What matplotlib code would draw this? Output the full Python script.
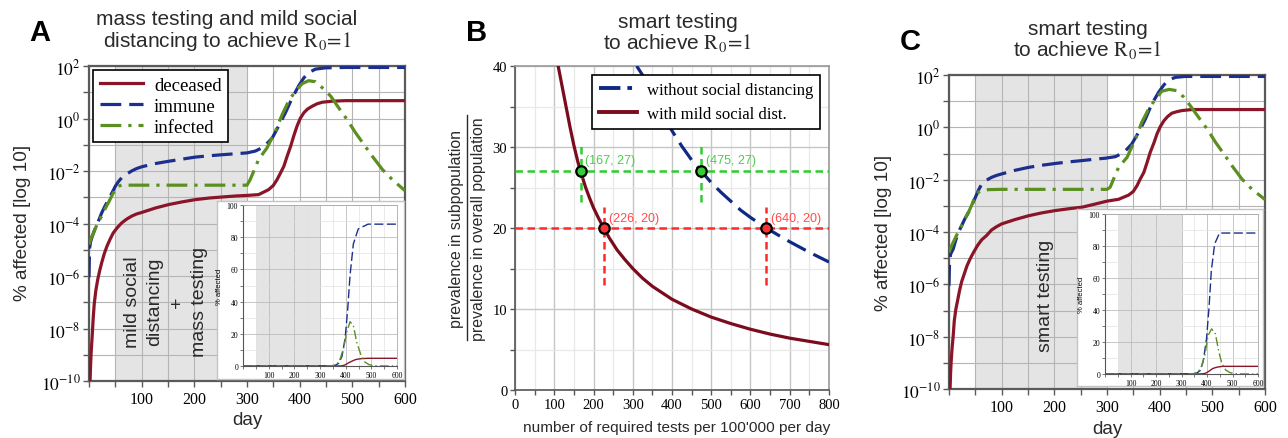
import numpy as np
import matplotlib
matplotlib.use("Agg")
import matplotlib.pyplot as plt
from matplotlib.ticker import FixedLocator, MultipleLocator, NullFormatter, FuncFormatter
from matplotlib.lines import Line2D

plt.rcParams['font.family'] = ['Liberation Sans', 'DejaVu Sans']
plt.rcParams['mathtext.fontset'] = 'stix'
SERIF = ['Liberation Serif', 'DejaVu Serif']

# ---- panel A: mass testing + mild social distancing (log10 of % affected) ----
a_dec_day = [1.5, 2, 3, 4, 6, 8, 10, 13, 16.5, 20, 24, 29, 34, 40, 46, 54, 62, 71, 81, 90, 100,
             126, 151, 176, 202, 228, 253, 280, 300, 322, 341, 350, 357, 363, 370, 376, 383, 389,
             395, 401, 408, 415, 424, 433, 443, 462, 487, 600]
a_dec = [-10.3, -10.0, -9.4, -8.94, -8.3, -7.6, -7.05, -6.55, -6.14, -5.82, -5.5, -5.15, -4.87,
         -4.6, -4.36, -4.15, -3.98, -3.84, -3.72, -3.64, -3.58, -3.41, -3.28, -3.18, -3.09, -3.03,
         -2.99, -2.95, -2.93, -2.9, -2.71, -2.55, -2.33, -2.1, -1.82, -1.45, -1.05, -0.65, -0.29,
         0.0, 0.22, 0.36, 0.47, 0.56, 0.62, 0.66, 0.68, 0.68]
a_imm_day = [0, 0.5, 1, 3, 6, 11, 17, 24, 30, 37, 44, 50, 56, 62, 71, 81, 90, 100, 125, 151, 176,
             202, 228, 253, 280, 300, 316, 332, 348, 360, 373, 386, 398, 408, 417, 430, 449, 487, 600]
a_imm = [-6.05, -5.5, -4.95, -4.7, -4.5, -4.23, -3.95, -3.6, -3.35, -3.09, -2.82, -2.58, -2.4,
         -2.26, -2.12, -2.0, -1.91, -1.84, -1.72, -1.63, -1.55, -1.47, -1.42, -1.38, -1.34, -1.31,
         -1.24, -1.08, -0.74, -0.29, 0.22, 0.79, 1.24, 1.55, 1.75, 1.88, 1.93, 1.945, 1.945]
a_inf_day = [0, 5, 11, 17, 24, 30, 37, 44, 50, 55, 62, 75, 100, 150, 200, 250, 300, 306, 314, 322,
             338, 354, 367, 379, 392, 405, 417, 430, 443, 459, 474, 490, 506, 522, 538, 557, 576, 600]
a_inf = [-4.8, -4.52, -4.23, -3.97, -3.72, -3.46, -3.2, -2.92, -2.7, -2.58, -2.54, -2.54, -2.54,
         -2.54, -2.54, -2.54, -2.54, -2.33, -1.95, -1.56, -1.12, -0.48, 0.16, 0.66, 1.05, 1.33,
         1.44, 1.4, 1.17, 0.85, 0.41, -0.04, -0.54, -0.99, -1.44, -1.94, -2.33, -2.75]

# ---- panel C: smart testing ----
c_dec_day = [1.5, 2, 3, 4, 6, 8, 10, 13, 16.5, 20, 24, 29, 34, 40, 46, 54, 62, 71, 81, 90, 100,
             126, 151, 176, 202, 228, 253, 280, 300, 322, 341, 350, 357, 363, 370, 376, 382, 389,
             395, 401, 408, 415, 423, 433, 442, 461, 490, 600]
c_dec = [-10.3, -10.0, -9.4, -8.98, -8.4, -7.96, -7.4, -6.95, -6.6, -6.24, -5.9, -5.6, -5.3,
         -5.03, -4.8, -4.52, -4.3, -4.14, -3.92, -3.8, -3.69, -3.52, -3.38, -3.27, -3.18, -3.11,
         -3.05, -2.92, -2.82, -2.75, -2.59, -2.45, -2.23, -1.98, -1.72, -1.35, -0.96, -0.6, -0.25,
         0.02, 0.25, 0.41, 0.54, 0.6, 0.64, 0.68, 0.68, 0.68]
c_imm_day = [0, 0.5, 1, 3, 8, 13, 18, 24, 30, 37, 44, 50, 56, 62, 71, 81, 90, 100, 126, 151, 176,
             202, 228, 253, 280, 297, 316, 332, 347, 360, 373, 385, 398, 408, 417, 430, 449, 600]
c_imm = [-6.05, -5.6, -5.2, -4.85, -4.65, -4.3, -4.0, -3.76, -3.5, -3.25, -2.95, -2.68, -2.4,
         -2.17, -2.02, -1.91, -1.84, -1.78, -1.64, -1.53, -1.45, -1.38, -1.32, -1.27, -1.21, -1.18,
         -1.12, -0.96, -0.64, -0.19, 0.32, 0.89, 1.34, 1.62, 1.81, 1.91, 1.945, 1.945]
c_inf_day = [0, 5, 11, 17, 24, 30, 37, 44, 50, 56, 62, 75, 100, 150, 200, 250, 300, 306, 314, 322,
             338, 354, 366, 379, 392, 404, 418, 433, 446, 458, 474, 490, 506, 522, 537, 556, 575, 600]
c_inf = [-4.78, -4.52, -4.27, -4.02, -3.76, -3.5, -3.25, -2.93, -2.61, -2.48, -2.42, -2.38, -2.37,
         -2.37, -2.37, -2.37, -2.37, -2.29, -1.9, -1.53, -1.15, -0.45, 0.19, 0.7, 1.08, 1.38,
         1.45, 1.4, 1.15, 0.83, 0.38, -0.06, -0.57, -1.02, -1.46, -1.97, -2.36, -2.76]

# ---- panel B: tests needed vs. prevalence ratio ----
b_dist_x = [110, 120, 130, 140, 150, 160, 167, 180, 190, 200, 213, 226, 240, 260, 280, 300, 325,
            350, 375, 400, 450, 500, 550, 600, 650, 700, 750, 800]
b_dist_y = [40, 37.5, 35, 32.5, 30.2, 28.2, 27, 25, 23.7, 22.5, 21.2, 20, 18.8, 17.3, 16.1, 15,
            13.8, 12.8, 12, 11.2, 10, 9, 8.2, 7.5, 6.9, 6.4, 6.0, 5.6]
b_free_x = [310, 330, 350, 375, 400, 425, 450, 475, 500, 525, 550, 575, 600, 640, 675, 700, 750, 800]
b_free_y = [40, 38.5, 36.5, 34, 32, 30.1, 28.4, 27, 25.6, 24.4, 23.3, 22.2, 21.3, 20, 19, 18.3,
            17, 15.8]
green_pts_x = [167, 475]
green_pts_y = [27, 27]
red_pts_x = [226, 640]
red_pts_y = [20, 20]

C_DEC = '#8a1528'
C_IMM = '#1c2f8f'
C_INF = '#5b8f1f'
GRID = '#b5b5b5'
SHADE = '#e4e4e4'
FRAME = '#5a5a5a'
TXT = '#2a2a2a'

DASH_IMM = (6.5, 2.5)
DASH_INF = (6.5, 2.2, 1.0, 2.2)

W, H = 1288, 439
fig = plt.figure(figsize=(W / 100, H / 100), dpi=100)


def px(x0, y0, x1, y1):
    # pixel box (left, top, right, bottom) -> figure rect
    return [x0 / W, 1 - y1 / H, (x1 - x0) / W, (y1 - y0) / H]


def epi_panel(rect, box, inset, dec_day, dec, imm_day, imm, inf_day, inf, legend=False):
    ax = fig.add_axes(rect)
    ax.axvspan(50, 300, color=SHADE, lw=0, zorder=0)
    ld, = ax.plot(dec_day, 10 ** np.array(dec), color=C_DEC, lw=2.3, label='deceased', zorder=3)
    li, = ax.plot(imm_day, 10 ** np.array(imm), color=C_IMM, lw=2.3, dashes=DASH_IMM,
                  label='immune', zorder=4)
    lf, = ax.plot(inf_day, 10 ** np.array(inf), color=C_INF, lw=2.3, dashes=DASH_INF,
                  label='infected', zorder=4)
    ax.set_yscale('log')
    ax.set_xlim(0, 600)
    ax.set_ylim(1e-10, 1e2)
    ax.xaxis.set_major_locator(FixedLocator([100, 200, 300, 400, 500, 600]))
    ax.xaxis.set_minor_locator(MultipleLocator(50))
    ax.yaxis.set_major_locator(FixedLocator([10.0 ** e for e in range(-10, 3, 2)]))
    ax.yaxis.set_minor_locator(FixedLocator([10.0 ** e for e in range(-9, 2, 2)]))
    ax.yaxis.set_minor_formatter(NullFormatter())
    ax.yaxis.set_major_formatter(FuncFormatter(lambda v, p: r'$10^{%d}$' % round(np.log10(v))))
    ax.set_axisbelow(True)
    ax.grid(True, which='both', color=GRID, lw=0.8)
    for s in ax.spines.values():
        s.set_color(FRAME)
        s.set_linewidth(1.6)
    ax.tick_params(which='both', direction='out', color=FRAME, length=4, width=1)
    ax.tick_params(axis='y', labelsize=12.5, pad=2)
    ax.tick_params(axis='x', labelsize=11.5, pad=3)
    for t in ax.get_xticklabels():
        t.set_fontfamily(SERIF)
    if legend:
        lg = ax.legend(handles=[ld, li, lf], loc='upper left', bbox_to_anchor=(0.013, 0.987),
                       borderaxespad=0, prop={'family': SERIF, 'size': 13.5}, fancybox=False,
                       framealpha=1, edgecolor='black', handlelength=2.3, labelspacing=0.2,
                       borderpad=0.35, handletextpad=0.6)
        lg.get_frame().set_linewidth(1.2)
        lg.set_zorder(10)

    # white card behind the linear-scale inset
    bx = fig.add_axes(box)
    bx.set_xticks([])
    bx.set_yticks([])
    for s in bx.spines.values():
        s.set_color('#c4c4c4')
        s.set_linewidth(1.0)

    ia = fig.add_axes(inset)
    ia.axvspan(50, 300, color=SHADE, lw=0, zorder=0)
    ia.plot(dec_day, 10 ** np.array(dec), color=C_DEC, lw=1.0)
    ia.plot(imm_day, 10 ** np.array(imm), color=C_IMM, lw=1.0, dashes=DASH_IMM)
    ia.plot(inf_day, 10 ** np.array(inf), color=C_INF, lw=1.0, dashes=DASH_INF)
    ia.set_xlim(0, 600)
    ia.set_ylim(0, 100)
    ia.xaxis.set_major_locator(FixedLocator([100, 200, 300, 400, 500, 600]))
    ia.xaxis.set_minor_locator(MultipleLocator(50))
    ia.yaxis.set_major_locator(MultipleLocator(20))
    ia.yaxis.set_minor_locator(MultipleLocator(10))
    ia.set_axisbelow(True)
    ia.grid(True, which='major', color='#bdbdbd', lw=0.6)
    ia.grid(True, which='minor', color='#e2e2e2', lw=0.5)
    ia.tick_params(which='both', direction='out', color='#666666', length=2, width=0.6,
                   labelsize=5.5, pad=1.5)
    for t in ia.get_xticklabels() + ia.get_yticklabels():
        t.set_fontfamily(SERIF)
    ia.set_ylabel('% affected', fontsize=5.5, labelpad=3)
    for k in ['left', 'bottom']:
        ia.spines[k].set_color('#555555')
        ia.spines[k].set_linewidth(0.8)
    for k in ['top', 'right']:
        ia.spines[k].set_color('#aaaaaa')
        ia.spines[k].set_linewidth(0.6)
    return ax


epi_panel(px(89, 67, 405, 382), px(217, 202, 404, 380), px(243, 206, 397, 367),
          a_dec_day, a_dec, a_imm_day, a_imm, a_inf_day, a_inf, legend=True)
epi_panel(px(949, 76, 1265, 390), px(1077, 210, 1263, 387), px(1105, 215, 1258, 375),
          c_dec_day, c_dec, c_imm_day, c_imm, c_inf_day, c_inf)

# ---- panel B ----
bx = fig.add_axes(px(515, 67, 829, 391))
bx.plot(b_dist_x, b_dist_y, color='#7a0c1e', lw=2.3, zorder=3)
bx.plot(b_free_x, b_free_y, color='#0f2a85', lw=2.3, dashes=(6.5, 2.7), zorder=3)
G_LINE, R_LINE = '#2ecc2e', '#ff2a2a'
bx.axhline(27, color=G_LINE, lw=1.8, dashes=(3.0, 1.8), zorder=4)
bx.axhline(20, color=R_LINE, lw=1.8, dashes=(3.0, 1.8), zorder=4)
for x in green_pts_x:
    bx.plot([x, x], [23.2, 30.3], color=G_LINE, lw=1.8, dashes=(3.0, 1.8), zorder=4)
for x in red_pts_x:
    bx.plot([x, x], [13.0, 22.6], color=R_LINE, lw=1.8, dashes=(3.0, 1.8), zorder=4)
bx.plot(green_pts_x, green_pts_y, 'o', ms=7.5, mfc='#33cc33', mec='black', mew=1.6, zorder=6)
bx.plot(red_pts_x, red_pts_y, 'o', ms=7.5, mfc='#ff3030', mec='black', mew=1.6, zorder=6)
for x, y in zip(green_pts_x, green_pts_y):
    bx.annotate('(%d, %d)' % (x, y), (x, y), xytext=(3.5, 8), textcoords='offset points',
                ha='left', va='center', fontsize=9, color='#4ccc4c', zorder=7)
for x, y in zip(red_pts_x, red_pts_y):
    bx.annotate('(%d, %d)' % (x, y), (x, y), xytext=(3.5, 7), textcoords='offset points',
                ha='left', va='center', fontsize=9, color='#ff4a4a', zorder=7)
bx.set_xlim(0, 800)
bx.set_ylim(0, 40)
bx.xaxis.set_major_locator(MultipleLocator(100))
bx.xaxis.set_minor_locator(MultipleLocator(50))
bx.yaxis.set_major_locator(MultipleLocator(10))
bx.yaxis.set_minor_locator(MultipleLocator(5))
bx.set_axisbelow(True)
bx.grid(True, which='major', color='#c6c6c6', lw=1.0)
bx.grid(True, which='minor', color='#e8e8e8', lw=0.9)
for s in bx.spines.values():
    s.set_color('#9a9a9a')
    s.set_linewidth(1.2)
bx.spines['left'].set_color('#555555')
bx.spines['bottom'].set_color('#555555')
bx.tick_params(which='both', direction='out', color='#555555', length=3.5, width=1,
               labelsize=10.5, pad=2)
for t in bx.get_xticklabels() + bx.get_yticklabels():
    t.set_fontfamily(SERIF)
leg_b = bx.legend(handles=[Line2D([], [], color='#0f2a85', lw=2.8, dashes=(5.5, 1.8, 1.2, 1.8)),
                           Line2D([], [], color='#7a0c1e', lw=2.8)],
                  labels=['without social distancing', 'with mild social dist.'],
                  loc='upper right', bbox_to_anchor=(0.971, 0.972), borderaxespad=0,
                  prop={'family': SERIF, 'size': 12}, fancybox=False, framealpha=1,
                  edgecolor='black', handlelength=2.3, labelspacing=0.5, borderpad=0.4,
                  handletextpad=0.6)
leg_b.get_frame().set_linewidth(1.2)
leg_b.set_zorder(10)

# fraction-style y label for B
fig.text(457 / W, 1 - 229 / H, 'prevalence in subpopulation', rotation=90, ha='center',
         va='center', fontsize=11.4, color=TXT)
fig.text(479 / W, 1 - 229 / H, 'prevalence in overall population', rotation=90, ha='center',
         va='center', fontsize=11.4, color=TXT)
fig.add_artist(Line2D([467 / W, 467 / W], [1 - 341 / H, 1 - 116 / H], color=TXT, lw=1.0))
fig.text(677 / W, 1 - 428 / H, "number of required tests per 100'000 per day", ha='center',
         va='center', fontsize=11.1, color=TXT)

# titles, panel letters and axis labels
R0 = r'$\mathrm{R_0}\!=\!1$'
fig.text(227 / W, 1 - 31.5 / H, 'mass testing and mild social\ndistancing to achieve ' + R0,
         ha='center', va='center', fontsize=15, linespacing=1.05, color=TXT)
fig.text(678 / W, 1 - 33.5 / H, 'smart testing\nto achieve ' + R0,
         ha='center', va='center', fontsize=15, linespacing=1.05, color=TXT)
fig.text(1088 / W, 1 - 40.5 / H, 'smart testing\nto achieve ' + R0,
         ha='center', va='center', fontsize=15, linespacing=1.05, color=TXT)
for lab, x, y in [('A', 40, 33), ('B', 477, 33), ('C', 910, 42)]:
    fig.text(x / W, 1 - y / H, lab, fontsize=21, fontweight='bold', ha='center', va='center')

fig.text(23 / W, 1 - 223 / H, '% affected [log 10]', rotation=90, ha='center', va='center',
         fontsize=13.7, color=TXT)
fig.text(883 / W, 1 - 233 / H, '% affected [log 10]', rotation=90, ha='center', va='center',
         fontsize=13.7, color=TXT)
fig.text(247 / W, 1 - 421 / H, 'day', ha='center', va='center', fontsize=13.5, color=TXT)
fig.text(1107 / W, 1 - 430 / H, 'day', ha='center', va='center', fontsize=13.5, color=TXT)

fig.text(166 / W, 1 - 302 / H, 'mild social\ndistancing\n+\nmass testing', rotation=90,
         ha='center', va='center', multialignment='center', fontsize=14, linespacing=1.4,
         color=TXT)
fig.text(1045 / W, 1 - 296 / H, 'smart testing', rotation=90, ha='center', va='center',
         fontsize=14, color=TXT)

fig.savefig('out.png', dpi=100)
